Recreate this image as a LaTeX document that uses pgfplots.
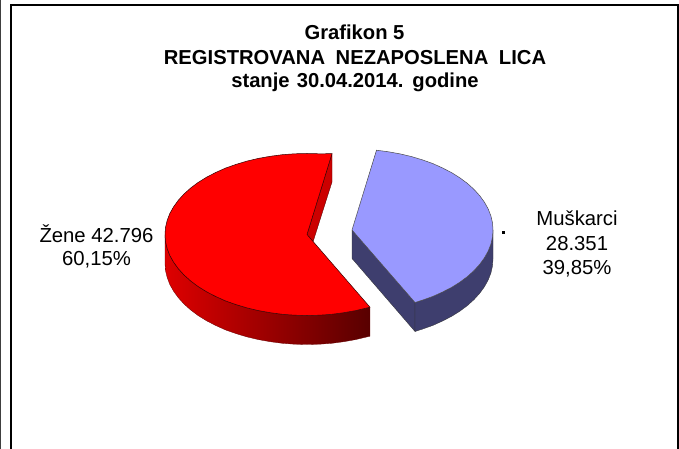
\documentclass[border=0pt]{standalone}
\usepackage{pgfplots}
\pgfplotsset{compat=1.18}
\usepackage{fontspec}
\setmainfont{Liberation Sans}
\definecolor{wallblue}{RGB}{62,62,110}
\definecolor{topblue}{RGB}{153,153,255}
\begin{document}
\begin{tikzpicture}
\useasboundingbox (0,0) rectangle (679pt,449pt);
\begin{axis}[at={(0,0)},anchor=south west,width=679pt,height=449pt,scale only axis,
  xmin=0,xmax=679,ymin=0,ymax=449,y dir=reverse,hide axis,clip=false]
% frame
\addplot[black,line width=2.6pt] coordinates {(10.8,449)(10.8,5.2)(678,5.2)(678,449)};
\addplot[black!75,line width=1.4pt] coordinates {(0.5,0)(0.5,449)};
% red outer wall
\addplot[draw=black!60!red,line width=0.3pt,left color={rgb,255:red,222;green,0;blue,0},right color={rgb,255:red,88;green,0;blue,0}] coordinates {
(165,234.5)(165.5,241.6)(167.2,248.6)(169.8,255.5)(173.6,262.2)(178.3,268.7)(184,275)(190.7,281)(198.2,286.6)(206.6,291.8)(215.7,296.5)(225.5,300.9)(236,304.6)(247,307.9)(258.4,310.6)(270.2,312.7)(282.3,314.3)(294.6,315.2)(307,315.5)(319.4,315.2)(331.7,314.3)(343.8,312.7)(355.6,310.6)(367,307.9)(370,307.2)
(370,336.2)(367,336.9)(355.6,339.6)(343.8,341.7)(331.7,343.3)(319.4,344.2)(307,344.5)(294.6,344.2)(282.3,343.3)(270.2,341.7)(258.4,339.6)(247,336.9)(236,333.6)(225.5,329.9)(215.7,325.5)(206.6,320.8)(198.2,315.6)(190.7,310)(184,304)(178.3,297.7)(173.6,291.2)(169.8,284.5)(167.2,277.6)(165.5,270.6)(165,263.5)(165,234.5)};
% red inner wall
\addplot[draw=black!70!red,line width=0.3pt,fill={rgb,255:red,204;green,0;blue,0}] coordinates {(332,153.7)(332,182)(313,242)(307,234.5)(332,153.7)};
% red top
\addplot[draw=black!80!red,line width=0.5pt,fill={rgb,255:red,255;green,0;blue,0}] coordinates {
(307,234.5)(332,153.7)(319.4,153.8)(307,153.5)(294.6,153.8)(282.3,154.7)(270.2,156.3)(258.4,158.4)(247,161.1)(236,164.4)(225.5,168.1)(215.7,172.5)(206.6,177.2)(198.2,182.4)(190.7,188)(184,194)(178.3,200.3)(173.6,206.8)(169.8,213.5)(167.2,220.4)(165.5,227.4)(165,234.5)(165.5,241.6)(167.2,248.6)(169.8,255.5)(173.6,262.2)(178.3,268.7)(184,275)(190.7,281)(198.2,286.6)(206.6,291.8)(215.7,296.5)(225.5,300.9)(236,304.6)(247,307.9)(258.4,310.6)(270.2,312.7)(282.3,314.3)(294.6,315.2)(307,315.5)(319.4,315.2)(331.7,314.3)(343.8,312.7)(355.6,310.6)(367,307.9)(370,307.2)(307,234.5)};
% blue walls
\addplot[draw=black!80,line width=0.3pt,fill=wallblue] coordinates {(352,230)(415,302.5)(415,331.5)(352,258.5)(352,230)};
\addplot[draw=black!80,line width=0.3pt,fill=wallblue] coordinates {
(493,230)(492.5,237.1)(490.9,244.1)(488.2,251)(484.5,257.7)(479.8,264.2)(474.1,270.5)(467.5,276.5)(460,282.1)(451.7,287.3)(442.6,292)(432.9,296.4)(422.5,300.1)(415,302.5)
(415,331.5)(422.5,329.1)(432.9,325.4)(442.6,321)(451.7,316.3)(460,311.1)(467.5,305.5)(474.1,299.5)(479.8,293.2)(484.5,286.7)(488.2,280)(490.9,273.1)(492.5,266.1)(493,259)(493,230)};
% blue top
\addplot[draw=black!70,line width=0.5pt,fill=topblue] coordinates {
(352,230)(376.5,150.2)(388.5,151.8)(400.2,153.9)(411.6,156.6)(422.5,159.9)(432.9,163.6)(442.6,168)(451.7,172.7)(460,177.9)(467.5,183.5)(474.1,189.5)(479.8,195.8)(484.5,202.3)(488.2,209)(490.9,215.9)(492.5,222.9)(493,230)(492.5,237.1)(490.9,244.1)(488.2,251)(484.5,257.7)(479.8,264.2)(474.1,270.5)(467.5,276.5)(460,282.1)(451.7,287.3)(442.6,292)(432.9,296.4)(422.5,300.1)(415,302.5)(352,230)};
% stray dot
\addplot[only marks,mark=square*,mark size=0.9pt,black] coordinates {(503,232)};
% text
\node[font=\bfseries\fontsize{20.2}{20.2}\selectfont,anchor=base] at (axis cs:354.5,40) {Grafikon 5};
\node[font=\bfseries\fontsize{20.2}{20.2}\selectfont,anchor=base] at (axis cs:355,64.5) {REGISTROVANA\hspace{5pt} NEZAPOSLENA\hspace{5pt} LICA};
\node[font=\bfseries\fontsize{20.2}{20.2}\selectfont,anchor=base] at (axis cs:355,88) {stanje\hspace{1.5pt} 30.04.2014.\hspace{1.5pt} godine};
\node[font=\fontsize{20.3}{20.3}\selectfont,anchor=base] at (axis cs:96.5,242) {Žene 42.796};
\node[font=\fontsize{20.3}{20.3}\selectfont,anchor=base] at (axis cs:96.5,265.5) {60,15\%};
\node[font=\fontsize{20.3}{20.3}\selectfont,anchor=base] at (axis cs:577,225.5) {Muškarci};
\node[font=\fontsize{20.3}{20.3}\selectfont,anchor=base] at (axis cs:577,250) {28.351};
\node[font=\fontsize{20.3}{20.3}\selectfont,anchor=base] at (axis cs:577,274.5) {39,85\%};
\end{axis}
\end{tikzpicture}
\end{document}
